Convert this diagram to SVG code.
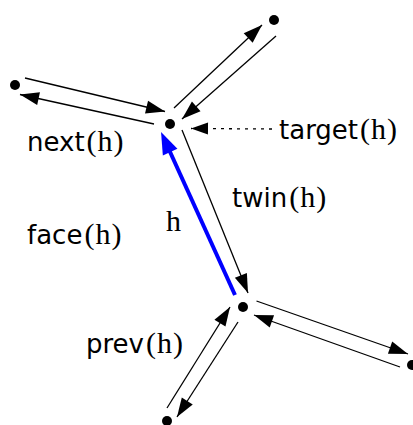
<svg xmlns="http://www.w3.org/2000/svg" width="413" height="425" viewBox="0 0 413 425">
  <style>
    .dot { fill: #000; }
    .he { stroke: #000; stroke-width: 1.3; fill: none; marker-end: url(#ah); }
    .lbl { font-family: "DejaVu Sans", "Liberation Sans", sans-serif; font-size: 26px; fill: #000; }
    .m { font-family: "Liberation Serif", "DejaVu Serif", serif; font-size: 30px; }
  </style>
  <defs>
    <marker id="ah" markerUnits="userSpaceOnUse" markerWidth="20" markerHeight="14" refX="19" refY="6.5" orient="auto" overflow="visible">
      <path d="M0,0 L19,6.5 L0,13 z" fill="#000"/>
    </marker>
    <marker id="ahb" markerUnits="userSpaceOnUse" markerWidth="24" markerHeight="18" refX="10" refY="8" orient="auto" overflow="visible">
      <path d="M0,0 L22,8 L0,16 z" fill="#0000ff"/>
    </marker>
    <marker id="aht" markerUnits="userSpaceOnUse" markerWidth="18" markerHeight="14" refX="17" refY="6" orient="auto" overflow="visible">
      <path d="M0,0 L17,6 L0,12 z" fill="#000"/>
    </marker>
  </defs>

  <g id="connectors">
    <path class="he" d="M174,108 L262,25"/>
    <path class="he" d="M276,36 L182,119"/>
    <path class="he" d="M25,78 L165,111.5"/>
    <path class="he" d="M154,124 L20,94.5"/>
    <path d="M272,129 L191,128.5" stroke="#000" stroke-width="1.3" stroke-dasharray="3 5" fill="none" marker-end="url(#aht)"/>
    <path d="M235,295 L166,143" stroke="#0000ff" stroke-width="4" fill="none" marker-end="url(#ahb)"/>
    <path class="he" d="M182,130 L248,293"/>
    <path class="he" d="M256.5,301 L408,354"/>
    <path class="he" d="M400,367 L254,315"/>
    <path class="he" d="M167,408 L230,307"/>
    <path class="he" d="M238,322 L177,417"/>
  </g>

  <g id="v-target"><circle class="dot" cx="170" cy="124" r="5"/></g>
  <g id="v-topright"><circle class="dot" cx="274" cy="20" r="5"/></g>
  <g id="v-left"><circle class="dot" cx="15" cy="85" r="5"/></g>
  <g id="v-origin"><circle class="dot" cx="243" cy="307" r="5"/></g>
  <g id="v-bottomright"><circle class="dot" cx="412" cy="365" r="5"/></g>
  <g id="v-bottomleft"><circle class="dot" cx="167" cy="421" r="5"/></g>

  <g id="labels">
    <text class="lbl" x="27" y="151">next<tspan class="m" dx="2">(</tspan><tspan class="m" dx="1">h</tspan><tspan class="m" dx="1">)</tspan></text>
    <text class="lbl" x="279" y="139">target<tspan class="m" dx="2">(</tspan><tspan class="m" dx="1">h</tspan><tspan class="m" dx="1">)</tspan></text>
    <text class="lbl" x="232" y="207">twin<tspan class="m" dx="2">(</tspan><tspan class="m" dx="1">h</tspan><tspan class="m" dx="1">)</tspan></text>
    <text class="lbl" x="27" y="244">face<tspan class="m" dx="2">(</tspan><tspan class="m" dx="1">h</tspan><tspan class="m" dx="1">)</tspan></text>
    <text class="lbl" x="86" y="353">prev<tspan class="m" dx="2">(</tspan><tspan class="m" dx="1">h</tspan><tspan class="m" dx="1">)</tspan></text>
    <text class="m" x="166" y="231">h</text>
  </g>
</svg>
